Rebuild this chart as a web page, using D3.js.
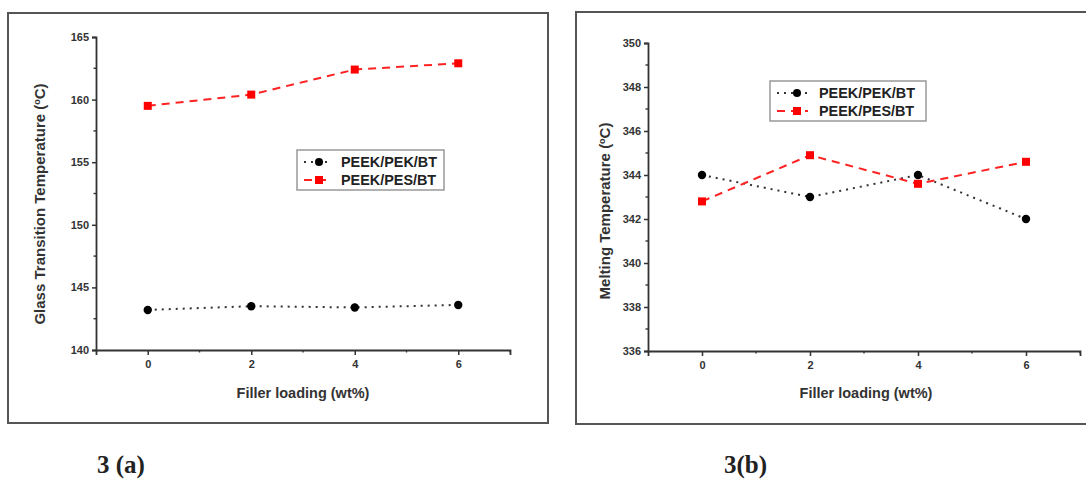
<!DOCTYPE html>
<html>
<head>
<meta charset="utf-8">
<script src="https://cdn.jsdelivr.net/npm/d3@7"></script>
<style>
  body { margin: 0; background: #fff; }
  svg text { font-family: "Liberation Sans", Arial, sans-serif; }
</style>
</head>
<body>
<div id="vis"></div>
<script>
// data
var loading = [0, 2, 4, 6];
var seriesNames = ["PEEK/PEK/BT", "PEEK/PES/BT"];
var tgPEK = [143.2, 143.5, 143.4, 143.6];
var tgPES = [159.5, 160.4, 162.4, 162.9];
var tmPEK = [344.0, 343.0, 344.0, 342.0];
var tmPES = [342.8, 344.9, 343.6, 344.6];
var tgTicks = [140, 145, 150, 155, 160, 165];
var tmTicks = [336, 338, 340, 342, 344, 346, 348, 350];
var xTicks = [0, 2, 4, 6];

var width = 1086, height = 480;

var svg = d3.select("#vis").append("svg")
    .attr("width", width)
    .attr("height", height);

var panels = [
  { frame: [8, 13, 548, 423], left: 96, right: 510, top: 37, bottom: 350,
    yDomain: [140, 165], yTicks: tgTicks, minorStep: 2.5,
    series: [tgPEK, tgPES], yTitle: "Glass Transition Temperature (",
    yTitleX: 45, yTitleY: 204, xTitleX: 303,
    legend: [297, 150, 147, 44], caption: "3 (a)", capX: 97 },
  { frame: [576, 12, 1092, 424], left: 648, right: 1080, top: 43, bottom: 351,
    yDomain: [336, 350], yTicks: tmTicks, minorStep: 1,
    series: [tmPEK, tmPES], yTitle: "Melting Temperature (",
    yTitleX: 610, yTitleY: 211, xTitleX: 866,
    legend: [770, 81, 156, 49], caption: "3(b)", capX: 724 }
];

panels.forEach(function(p) {
  // outer frame
  svg.append("rect")
    .attr("x", p.frame[0]).attr("y", p.frame[1])
    .attr("width", p.frame[2] - p.frame[0]).attr("height", p.frame[3] - p.frame[1])
    .attr("fill", "none").attr("stroke", "#555").attr("stroke-width", 2);

  var x = d3.scaleLinear().domain([-1, 7]).range([p.left, p.right]);
  var y = d3.scaleLinear().domain(p.yDomain).range([p.bottom, p.top]);

  var g = svg.append("g");

  // minor ticks
  var yMinor = d3.range(p.yDomain[0], p.yDomain[1] + 0.001, p.minorStep)
    .filter(function(v) { return p.yTicks.indexOf(v) < 0; });
  g.selectAll(".ym").data(yMinor).enter().append("line")
    .attr("x1", p.left - 2.5).attr("x2", p.left)
    .attr("y1", function(d) { return y(d); }).attr("y2", function(d) { return y(d); })
    .attr("stroke", "#333").attr("stroke-width", 1.4);
  g.selectAll(".xm").data([1, 3, 5, 7]).enter().append("line")
    .attr("x1", function(d) { return x(d); }).attr("x2", function(d) { return x(d); })
    .attr("y1", p.bottom).attr("y2", p.bottom + 2.5)
    .attr("stroke", "#333").attr("stroke-width", 1.4);

  var yAxis = g.append("g")
    .attr("transform", "translate(" + p.left + ",0)")
    .call(d3.axisLeft(y).tickValues(p.yTicks).tickSize(4).tickPadding(3));
  var xAxis = g.append("g")
    .attr("transform", "translate(0," + p.bottom + ")")
    .call(d3.axisBottom(x).tickValues(xTicks).tickSize(5).tickPadding(5));

  [yAxis, xAxis].forEach(function(a) {
    a.select(".domain").attr("stroke", "#333").attr("stroke-width", 1.8);
    a.selectAll(".tick line").attr("stroke", "#333").attr("stroke-width", 1.5);
    a.selectAll(".tick text")
      .attr("font-size", 11).attr("font-weight", "bold").attr("fill", "#333")
      .style("font-family", "'Liberation Sans', Arial, sans-serif");
  });

  // axis titles
  svg.append("text")
    .attr("x", p.xTitleX).attr("y", 398)
    .attr("text-anchor", "middle")
    .attr("font-size", 14.5).attr("font-weight", "bold").attr("fill", "#333")
    .text("Filler loading (wt%)");

  var yt = svg.append("text")
    .attr("transform", "translate(" + p.yTitleX + "," + p.yTitleY + ") rotate(-90)")
    .attr("text-anchor", "middle")
    .attr("font-size", 15).attr("font-weight", "bold").attr("fill", "#333");
  yt.append("tspan").text(p.yTitle);
  yt.append("tspan").attr("font-size", 9).attr("dy", -5).text("o");
  yt.append("tspan").attr("dy", 5).text("C)");

  // lines
  var line = d3.line()
    .x(function(d, i) { return x(loading[i]); })
    .y(function(d) { return y(d); });

  g.append("path").datum(p.series[0])
    .attr("d", line).attr("fill", "none")
    .attr("stroke", "#333").attr("stroke-width", 2)
    .attr("stroke-dasharray", "2,5").attr("stroke-linecap", "butt");
  g.append("path").datum(p.series[1])
    .attr("d", line).attr("fill", "none")
    .attr("stroke", "#f22").attr("stroke-width", 2)
    .attr("stroke-dasharray", "8,6");

  g.selectAll(".dot").data(p.series[0]).enter().append("circle")
    .attr("cx", function(d, i) { return x(loading[i]); })
    .attr("cy", function(d) { return y(d); })
    .attr("r", 4.2).attr("fill", "#000");
  g.selectAll(".sq").data(p.series[1]).enter().append("rect")
    .attr("x", function(d, i) { return x(loading[i]) - 4; })
    .attr("y", function(d) { return y(d) - 4; })
    .attr("width", 8).attr("height", 8).attr("fill", "#f00");

  // legend
  var L = p.legend;
  var lg = svg.append("g").attr("transform", "translate(" + L[0] + "," + L[1] + ")");
  lg.append("rect").attr("width", L[2]).attr("height", 40)
    .attr("fill", "#fff").attr("stroke", "#999").attr("stroke-width", 1.5);
  lg.append("line").attr("x1", 7).attr("x2", L[3] - 11).attr("y1", 12).attr("y2", 12)
    .attr("stroke", "#333").attr("stroke-width", 2).attr("stroke-dasharray", "2,5");
  lg.append("circle").attr("cx", L[3] - 22).attr("cy", 12).attr("r", 4).attr("fill", "#000");
  lg.append("line").attr("x1", 7).attr("x2", L[3] - 11).attr("y1", 30).attr("y2", 30)
    .attr("stroke", "#f22").attr("stroke-width", 2).attr("stroke-dasharray", "8,6");
  lg.append("rect").attr("x", L[3] - 26).attr("y", 26).attr("width", 8).attr("height", 8).attr("fill", "#f00");
  lg.selectAll(".lt").data(seriesNames).enter().append("text")
    .attr("x", L[3]).attr("y", function(d, i) { return 17 + i * 18; })
    .attr("font-size", 14.4).attr("font-weight", "bold").attr("fill", "#222")
    .text(function(d) { return d; });

  // caption
  svg.append("text")
    .attr("x", p.capX).attr("y", 473)
    .attr("font-size", 25).attr("font-weight", "bold").attr("fill", "#222")
    .style("font-family", "'Liberation Serif', 'DejaVu Serif', serif")
    .text(p.caption);
});
</script>
</body>
</html>
